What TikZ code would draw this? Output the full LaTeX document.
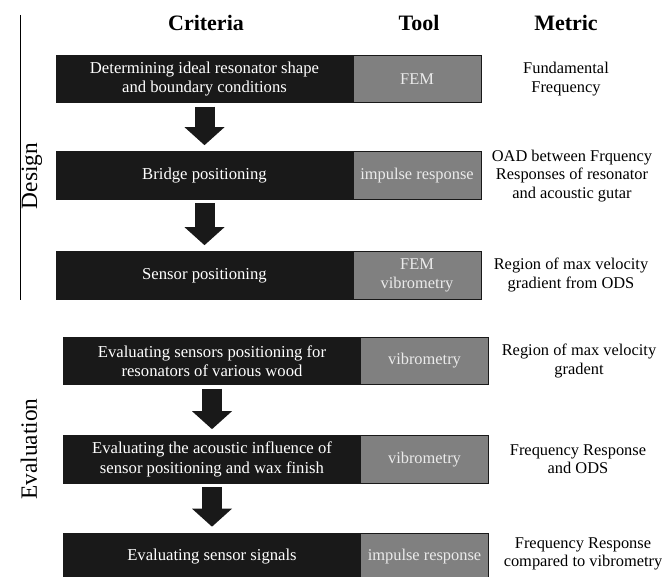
\documentclass[tikz,border=0pt]{standalone}
\usepackage{fontspec}
\setmainfont{Liberation Serif}
\usetikzlibrary{arrows.meta}

\tikzset{every picture/.style={line width=0.75pt}}
\tikzset{
  critbox/.style={draw=black!90, fill=black!90, text=white, minimum width=222.75pt, minimum height=35.5pt, inner sep=0.75pt, outer sep=0pt, align=center, font=\fontsize{12.5}{14.5}\selectfont},
  toolbox/.style={draw=black!90, fill=black!50, text=white!92!black, minimum width=96pt, minimum height=35.5pt, inner sep=0.75pt, outer sep=0pt, align=center, anchor=west, font=\fontsize{12.3}{14.5}\selectfont},
  metric/.style={align=center, inner sep=0.75pt, font=\fontsize{12.3}{13.8}\selectfont},
  header/.style={inner sep=0.75pt, font=\fontsize{16.5}{19}\selectfont\bfseries},
  sidelabel/.style={inner sep=0.75pt, rotate=90, font=\fontsize{17.5}{20}\selectfont},
  fatarrow/.style={draw=black!90, line width=15pt, -{Triangle[width=30pt,length=13.5pt,line width=0pt]}}
}

\begin{document}
\begin{tikzpicture}[x=0.75pt,y=0.75pt,yscale=-1,xscale=1]
\useasboundingbox (0,0) rectangle (662,577);

% Headers
\node[header] (hcrit) at (206,23) {Criteria};
\node[header] (htool) at (419,23) {Tool};
\node[header] (hmetr) at (566,23) {Metric};

%Straight Lines: design bracket
\coordinate (dtop) at (20.5,15);
\coordinate (dbot) at (20.5,300);
\draw (dtop) -- (dbot);
\node[sidelabel] (design) at (32,176) {Design};
\node[sidelabel] (evaluation) at (29,449) {Evaluation};

% Design rows
\node[critbox] (c1) at (204.5,79) {Determining ideal resonator shape\\and boundary conditions};
\node[toolbox] (t1) at (c1.east) {FEM};
\node[metric] (m1) at (566,79) {Fundamental\\Frequency};

\node[critbox] (c2) at (204.5,175.5) {Bridge positioning};
\node[toolbox] (t2) at (c2.east) {impulse response};
\node[metric] (m2) at (572,176) {OAD between Frquency\\Responses of resonator\\and acoustic gutar};

\node[critbox] (c3) at (204.5,275.5) {Sensor positioning};
\node[toolbox] (t3) at (c3.east) {FEM\\vibrometry};
\node[metric] (m3) at (571,275) {Region of max velocity\\gradient from ODS};

% Evaluation rows
\node[critbox] (c4) at (212,361) {Evaluating sensors positioning for\\resonators of various wood};
\node[toolbox] (t4) at (c4.east) {vibrometry};
\node[metric] (m4) at (579,361) {Region of max velocity\\gradent};

\node[critbox] (c5) at (212,459.5) {Evaluating the acoustic influence of\\sensor positioning and wax finish};
\node[toolbox] (t5) at (c5.east) {vibrometry};
\node[metric] (m5) at (578,459) {Frequency Response\\and ODS};

\node[critbox] (c6) at (212,557) {Evaluating sensor signals};
\node[toolbox] (t6) at (c6.east) {impulse response};
\node[metric] (m6) at (583,554) {Frequency Response\\compared to vibrometry};

% Arrows
\draw[fatarrow] ([yshift=3pt]c1.south) -- ([yshift=-5pt]c2.north);
\draw[fatarrow] ([yshift=3pt]c2.south) -- ([yshift=-5pt]c3.north);
\draw[fatarrow] ([yshift=3pt]c4.south) -- ([yshift=-5pt]c5.north);
\draw[fatarrow] ([yshift=3pt]c5.south) -- ([yshift=-5pt]c6.north);

\end{tikzpicture}
\end{document}
